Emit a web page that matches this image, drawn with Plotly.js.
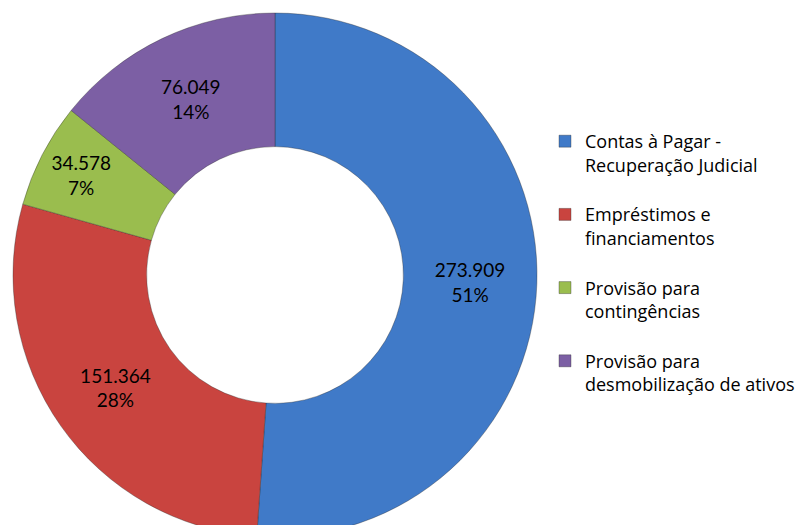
<!DOCTYPE html>
<html>
<head>
<meta charset="utf-8">
<script src="https://cdn.plot.ly/plotly-3.0.1.min.js"></script>
<style>
html,body{margin:0;padding:0;overflow:hidden;background:#fff;width:808px;height:525px;}
#chart{width:808px;height:550px;}
</style>
</head>
<body>
<div id="chart"></div>
<script>
const categories = [
  'Contas à Pagar -<br>Recuperação Judicial<br> ',
  'Empréstimos e<br>financiamentos<br> ',
  'Provisão para<br>contingências<br> ',
  'Provisão para<br>desmobilização de ativos<br> '
];
const values = [273909, 151364, 34578, 76049];
const pctLabels = ['51%', '28%', '7%', '14%'];
const colors = ['#407AC8', '#C9443F', '#9ABD4E', '#7C5FA4'];

const W = 808, H = 550, T = 13, B = 13;
const cx = 275, R = 262;

const trace = {
  type: 'pie',
  labels: categories,
  values: values,
  text: pctLabels,
  hole: 0.49,
  sort: false,
  direction: 'clockwise',
  rotation: 0,
  textposition: 'inside',
  insidetextorientation: 'horizontal',
  texttemplate: '%{value:,}<br>%{text}',
  textfont: {family: 'Lato, "Open Sans", sans-serif', size: 19, color: '#000'},
  marker: {colors: colors, line: {color: 'rgba(40,40,40,0.35)', width: 1}},
  domain: {x: [(cx - R) / W, (cx + R) / W], y: [0, 1]},
  hoverinfo: 'none'
};

const layout = {
  width: W,
  height: H,
  margin: {l: 0, r: 0, t: T, b: B},
  separators: ',.',
  paper_bgcolor: '#fff',
  showlegend: true,
  legend: {
    x: 545 / W,
    xanchor: 'left',
    y: 1 - (123 - T) / (H - T - B),
    yanchor: 'top',
    valign: 'top',
    font: {family: '"Open Sans", sans-serif', size: 18, color: '#000'},
    bgcolor: 'rgba(0,0,0,0)'
  }
};

Plotly.newPlot('chart', [trace], layout, {staticPlot: true});
</script>
</body>
</html>
